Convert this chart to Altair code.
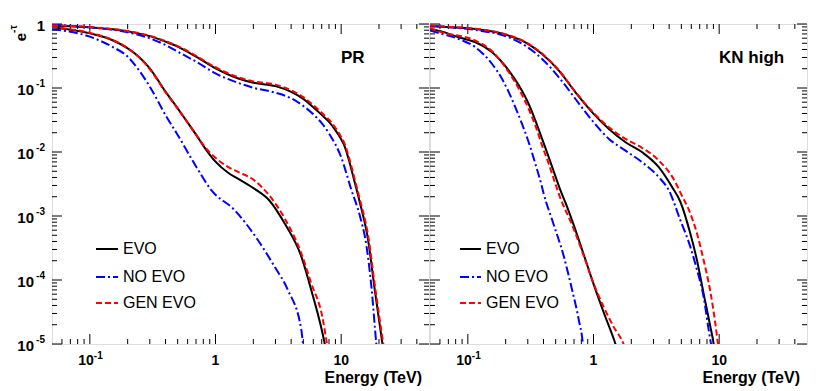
import altair as alt
import pandas as pd

# ---------------- data ----------------
# Panel "PR": upper group (A) and lower group (B)
PR_EVO_A_E = [0.05, 0.1, 0.2, 0.3, 0.4, 0.5, 0.7, 1.0, 1.5, 2.0, 3.0, 4.0, 5.0, 6.0, 7.0, 8.0, 8.79, 10.0, 10.6, 11.5, 12.8, 14.0, 16.4, 18.5, 21.3, 22.5]
PR_EVO_A_V = [0.942, 0.887, 0.767, 0.646, 0.530, 0.443, 0.309, 0.203, 0.142, 0.121, 0.107, 0.0871, 0.0676, 0.0501, 0.038, 0.0295, 0.0234, 0.0158, 0.0126, 0.00759, 0.00339, 0.0017, 4.17e-4, 7.08e-5, 1.0e-5, 5e-6]
PR_GEN_A_E = [0.05, 0.1, 0.2, 0.3, 0.4, 0.5, 0.7, 1.0, 1.5, 2.0, 3.0, 4.0, 5.0, 6.0, 7.0, 8.0, 8.79, 10.0, 10.6, 11.5, 12.8, 14.0, 16.4, 18.5, 21.3, 22.5]
PR_GEN_A_V = [0.955, 0.895, 0.775, 0.655, 0.540, 0.452, 0.318, 0.211, 0.148, 0.127, 0.113, 0.092, 0.072, 0.054, 0.041, 0.032, 0.0255, 0.0172, 0.0138, 0.0084, 0.0038, 0.0019, 4.9e-4, 8.5e-5, 1.25e-5, 6.2e-6]
PR_NOEVO_A_E = [0.05, 0.1, 0.2, 0.3, 0.4, 0.5, 0.7, 1.0, 1.5, 2.0, 3.0, 4.0, 5.0, 6.0, 7.0, 8.0, 10.0, 12.05, 14.1, 15.85, 17.4, 19.05, 20.0]
PR_NOEVO_A_V = [0.977, 0.887, 0.741, 0.597, 0.470, 0.370, 0.258, 0.169, 0.121, 0.101, 0.0845, 0.069, 0.0524, 0.0388, 0.0282, 0.0195, 0.0083, 0.00257, 0.001, 3.55e-4, 7.9e-5, 1.0e-5, 4e-6]

PR_EVO_B_E = [0.05, 0.1, 0.15, 0.2, 0.245, 0.3, 0.4, 0.5, 0.702, 0.832, 1.0, 1.276, 1.496, 2.018, 2.661, 3.548, 4.82, 5.78, 7.40, 7.9]
PR_EVO_B_V = [0.887, 0.714, 0.562, 0.417, 0.309, 0.203, 0.0877, 0.0481, 0.0185, 0.0112, 0.00706, 0.00465, 0.00388, 0.0027, 0.00178, 7.67e-4, 2.32e-4, 6.98e-5, 1.01e-5, 5e-6]
PR_GEN_B_E = [0.05, 0.1, 0.15, 0.2, 0.245, 0.3, 0.4, 0.5, 0.702, 0.832, 1.0, 1.276, 1.496, 2.018, 2.661, 3.548, 4.82, 5.78, 7.08, 7.72, 8.2]
PR_GEN_B_V = [0.9, 0.725, 0.57, 0.42, 0.305, 0.198, 0.086, 0.0475, 0.0187, 0.0117, 0.0081, 0.00575, 0.00493, 0.00365, 0.00213, 9.2e-4, 2.61e-4, 8.87e-5, 2.67e-5, 1.0e-5, 5e-6]
PR_NOEVO_B_E = [0.05, 0.1, 0.15, 0.2, 0.245, 0.3, 0.4, 0.5, 0.702, 0.923, 1.416, 2.173, 2.951, 3.767, 4.82, 4.97, 5.2]
PR_NOEVO_B_V = [0.826, 0.634, 0.443, 0.309, 0.191, 0.105, 0.0378, 0.0185, 0.0059, 0.00255, 0.00124, 4.22e-4, 1.62e-4, 6.98e-5, 1.66e-5, 1.01e-5, 5e-6]

# Panel "KN high": upper group (A) and lower group (B)
KN_EVO_A_E = [0.05, 0.0624, 0.115, 0.212, 0.287, 0.390, 0.530, 0.719, 0.977, 1.327, 1.799, 2.443, 3.319, 4.236, 4.909, 5.888, 6.653, 7.516, 8.511, 9.036, 9.4]
KN_EVO_A_V = [0.93, 0.908, 0.836, 0.658, 0.518, 0.340, 0.187, 0.0855, 0.0417, 0.0229, 0.0142, 0.00989, 0.00575, 0.0028, 0.00167, 5.36e-4, 2.05e-4, 6.19e-5, 1.87e-5, 1.0e-5, 5e-6]
KN_GEN_A_E = [0.05, 0.0624, 0.115, 0.212, 0.287, 0.390, 0.530, 0.719, 0.977, 1.327, 1.799, 2.443, 3.319, 4.51, 4.903, 5.888, 6.656, 7.516, 8.511, 9.32, 9.79, 10.2]
KN_GEN_A_V = [0.95, 0.92, 0.845, 0.665, 0.525, 0.345, 0.19, 0.087, 0.043, 0.0243, 0.016, 0.01155, 0.00733, 0.0033, 0.00234, 0.0011, 5.36e-4, 2.05e-4, 6.58e-5, 2.1e-5, 1.0e-5, 6.3e-6]
KN_NOEVO_A_E = [0.05, 0.0624, 0.115, 0.212, 0.287, 0.390, 0.530, 0.719, 0.977, 1.327, 1.799, 2.443, 3.319, 3.99, 4.903, 5.888, 6.656, 7.516, 8.25, 8.61, 8.93]
KN_NOEVO_A_V = [0.94, 0.908, 0.805, 0.619, 0.458, 0.284, 0.147, 0.0673, 0.0309, 0.016, 0.0105, 0.0069, 0.00402, 0.00249, 8.66e-4, 3.32e-4, 1.45e-4, 5.5e-5, 1.66e-5, 1.0e-5, 6.3e-6]

KN_EVO_B_E = [0.05, 0.0624, 0.0847, 0.115, 0.156, 0.212, 0.255, 0.305, 0.345, 0.390, 0.441, 0.498, 0.546, 0.62, 0.693, 0.832, 1.0, 1.202, 1.496, 1.58]
KN_EVO_B_V = [0.836, 0.76, 0.62, 0.518, 0.361, 0.187, 0.109, 0.0562, 0.0309, 0.016, 0.00826, 0.00417, 0.00251, 0.00135, 7.4e-4, 2.57e-4, 8.7e-5, 3.16e-5, 1.0e-5, 7.1e-6]
KN_GEN_B_E = [0.05, 0.0624, 0.115, 0.156, 0.212, 0.255, 0.305, 0.345, 0.390, 0.441, 0.498, 0.530, 0.693, 0.832, 1.0, 1.202, 1.443, 1.734, 1.845]
KN_GEN_B_V = [0.86, 0.74, 0.55, 0.374, 0.176, 0.0964, 0.047, 0.0258, 0.0126, 0.0065, 0.00316, 0.00221, 6.41e-4, 2.46e-4, 8.87e-5, 3.83e-5, 1.87e-5, 1.0e-5, 7.1e-6]
KN_NOEVO_B_E = [0.05, 0.0624, 0.0847, 0.115, 0.156, 0.1875, 0.212, 0.239, 0.270, 0.305, 0.345, 0.390, 0.402, 0.469, 0.581, 0.676, 0.764, 0.822, 0.845]
KN_NOEVO_B_V = [0.79, 0.698, 0.583, 0.432, 0.237, 0.138, 0.0855, 0.0499, 0.0274, 0.0142, 0.0065, 0.0028, 0.00221, 8.66e-4, 2.32e-4, 6.98e-5, 2.37e-5, 1.01e-5, 5e-6]

SERIES = ["EVO", "NO EVO", "GEN EVO"]
PANEL_LABELS = ["PR", "KN high"]

# axis ticks / labels
X_MAJOR = [0.1, 1, 10]
X_MINOR = [0.06, 0.07, 0.08, 0.09, 0.2, 0.3, 0.4, 0.5, 0.6, 0.7, 0.8, 0.9,
           2, 3, 4, 5, 6, 7, 8, 9, 20, 30, 40]
Y_MAJOR = [1e-5, 1e-4, 1e-3, 1e-2, 1e-1, 1]
Y_MINOR = [m * d for d in [1e-5, 1e-4, 1e-3, 1e-2, 1e-1] for m in range(2, 10)]
Y_LABEL_VALUES = [1e-1, 1e-2, 1e-3, 1e-4, 1e-5]
Y_LABEL_EXPS = ["-1", "-2", "-3", "-4", "-5"]

# ---------------- styling ----------------
W, H = 377, 320
FONT = "Liberation Sans"
STYLE = {
    "EVO": dict(color="black"),
    "NO EVO": dict(color="#0000ff", strokeDash=[9, 3, 2, 3]),
    "GEN EVO": dict(color="#ff0000", strokeDash=[6, 3]),
}
xs = alt.Scale(type="log", domain=[0.05, 50], nice=False)
ys = alt.Scale(type="log", domain=[1e-5, 1], nice=False)
DUMMY = pd.DataFrame({"k": [0]})


def X(field="E"):
    return alt.X(f"{field}:Q", scale=xs, axis=None)


def Y(field="V"):
    return alt.Y(f"{field}:Q", scale=ys, axis=None)


def curve(E, V, series):
    df = pd.DataFrame({"E": E, "V": V})
    return alt.Chart(df).mark_line(strokeWidth=2, clip=True, interpolate="monotone",
                                   **STYLE[series]).encode(x=X(), y=Y())


def txt(text, x, y, size, weight="normal", align="left", baseline="alphabetic", angle=0):
    kw = dict(text=text, fontSize=size, fontWeight=weight, align=align,
              baseline=baseline, font=FONT, color="black")
    if angle:
        kw["angle"] = angle
    return alt.Chart(DUMMY).mark_text(**kw).encode(x=alt.value(x), y=alt.value(y))


def ticks():
    layers = []
    for vals, ln in [(X_MAJOR, 10), (X_MINOR, 5)]:
        df = pd.DataFrame({"E": vals})
        base = alt.Chart(df).mark_rule(color="black", strokeWidth=1)
        layers.append(base.encode(x=X(), y=alt.value(H), y2=alt.value(H - ln)))
        layers.append(base.encode(x=X(), y=alt.value(0), y2=alt.value(ln)))
    for vals, ln in [(Y_MAJOR, 10), (Y_MINOR, 5)]:
        df = pd.DataFrame({"V": vals})
        base = alt.Chart(df).mark_rule(color="black", strokeWidth=1)
        layers.append(base.encode(y=Y(), x=alt.value(0), x2=alt.value(ln)))
        layers.append(base.encode(y=Y(), x=alt.value(W), x2=alt.value(W - ln)))
    return layers


def x_labels():
    layers = []
    df_exp = pd.DataFrame({"E": [0.1]})
    layers.append(alt.Chart(df_exp).mark_text(text="10", fontSize=14, fontWeight="bold", font=FONT,
                                              align="right", baseline="middle", dx=4)
                  .encode(x=X(), y=alt.value(H + 17)))
    layers.append(alt.Chart(df_exp).mark_text(text="-1", fontSize=10, fontWeight="bold", font=FONT,
                                              align="left", baseline="middle", dx=4)
                  .encode(x=X(), y=alt.value(H + 12)))
    df_plain = pd.DataFrame({"E": [1, 10], "lab": ["1", "10"]})
    layers.append(alt.Chart(df_plain).mark_text(fontSize=14, fontWeight="bold", font=FONT,
                                                align="center", baseline="middle")
                  .encode(x=X(), y=alt.value(H + 17), text="lab:N"))
    return layers


def y_labels():
    df = pd.DataFrame({"V": Y_LABEL_VALUES, "exp": Y_LABEL_EXPS})
    base = alt.Chart(df).mark_text(text="10", fontSize=15, fontWeight="bold", font=FONT,
                                   align="right", baseline="middle", dy=2).encode(y=Y(), x=alt.value(-18))
    sup = alt.Chart(df).mark_text(fontSize=10, fontWeight="bold", font=FONT,
                                  align="right", baseline="middle", dy=-4).encode(
        y=Y(), x=alt.value(-7), text="exp:N")
    one = alt.Chart(pd.DataFrame({"V": [1]})).mark_text(text="1", fontSize=15, fontWeight="bold", font=FONT,
                                                        align="right", baseline="middle", dy=2).encode(
        y=Y(), x=alt.value(-7))
    title_e = txt("e", -31, 13, 15, "bold", "center", "middle", 270)
    title_sup = txt("-\u03c4", -38, 5, 10, "bold", "center", "middle", 270)
    return [base, sup, one, title_e, title_sup]


def legend(x0, x1, tx):
    layers = []
    for s, yy in zip(SERIES, [225, 253, 279]):
        layers.append(alt.Chart(DUMMY).mark_rule(strokeWidth=2, **STYLE[s])
                      .encode(x=alt.value(x0), x2=alt.value(x1), y=alt.value(yy)))
        layers.append(txt(s, tx, yy, 16, "normal", "left", "middle"))
    return layers


def panel(curves, label, with_y, lx0, lx1, ltx):
    layers = ticks()
    for E, V, s in curves:
        layers.append(curve(E, V, s))
    layers += x_labels()
    if with_y:
        layers += y_labels()
    layers += legend(lx0, lx1, ltx)
    layers.append(txt(label, 289, 39, 17, "bold"))
    layers.append(txt("Energy (TeV)", W - 7, H + 39, 16, "bold", "right"))
    return alt.layer(*layers).properties(width=W, height=H)


pr_curves = [
    (PR_EVO_A_E, PR_EVO_A_V, "EVO"), (PR_EVO_B_E, PR_EVO_B_V, "EVO"),
    (PR_NOEVO_A_E, PR_NOEVO_A_V, "NO EVO"), (PR_NOEVO_B_E, PR_NOEVO_B_V, "NO EVO"),
    (PR_GEN_A_E, PR_GEN_A_V, "GEN EVO"), (PR_GEN_B_E, PR_GEN_B_V, "GEN EVO"),
]
kn_curves = [
    (KN_EVO_A_E, KN_EVO_A_V, "EVO"), (KN_EVO_B_E, KN_EVO_B_V, "EVO"),
    (KN_NOEVO_A_E, KN_NOEVO_A_V, "NO EVO"), (KN_NOEVO_B_E, KN_NOEVO_B_V, "NO EVO"),
    (KN_GEN_A_E, KN_GEN_A_V, "GEN EVO"), (KN_GEN_B_E, KN_GEN_B_V, "GEN EVO"),
]

left = panel(pr_curves, PANEL_LABELS[0], True, 44, 66, 71)
right = panel(kn_curves, PANEL_LABELS[1], False, 30, 51, 56)

chart = alt.hconcat(left, right, spacing=-2).properties(
    padding={"left": 0, "top": 10, "right": 5, "bottom": 5}
).configure_view(stroke="black", strokeWidth=1.5).configure(background="white")

chart.save("out.html", embed_options={"renderer": "svg", "actions": False})
